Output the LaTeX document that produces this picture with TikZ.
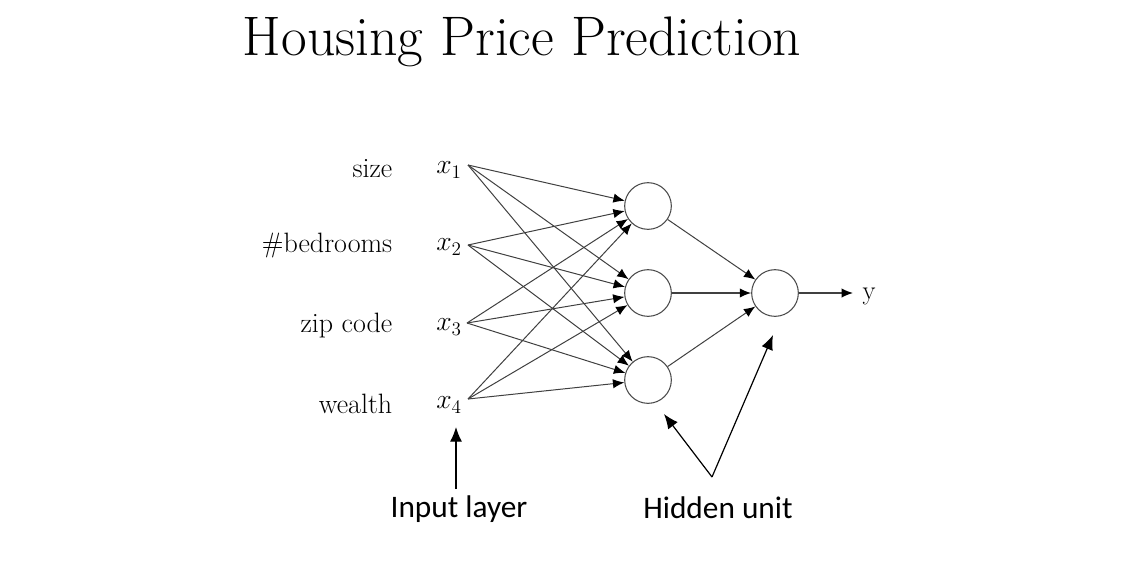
\documentclass[tikz,border=0pt]{standalone}
\usepackage{amssymb,amsmath}
\usepackage{fontspec}
\newfontfamily\calibri{Carlito}
\usetikzlibrary{arrows,arrows.meta}

\begin{document}
\begin{tikzpicture}[x=0.75pt,y=0.75pt,yscale=-1,
	unit/.style={draw=black!70, circle, line width=0.8pt, minimum size=35pt, inner sep=0pt},
	lbl/.style={anchor=east, font=\fontsize{21}{24}\selectfont},
	var/.style={font=\fontsize{20}{23}\selectfont},
	edge/.style={draw=black!75, line width=0.75pt, -{Latex[length=8.5pt,width=7pt,color=black]}},
	note/.style={font=\calibri\fontsize{23.5}{26}\selectfont},
	pointer/.style={line width=0.9pt, -{Latex[length=11pt,width=9pt]}}]
	\path (0,0) rectangle (1138,586); %set diagram size to the screenshot
	
	\node (title) at (522,42) {\fontsize{41.8}{46}\selectfont Housing Price Prediction};
	
	% inputs
	\node [lbl] (size) at (397,169) {size};
	\node [lbl] (bed) at (397,246) {\#bedrooms};
	\node [lbl] (zip) at (397,326) {zip code};
	\node [lbl] (wealth) at (397,404) {wealth};
	\node [var] (x1) at (449,170) {$x_1$};
	\node [var] (x2) at (449,247) {$x_2$};
	\node [var] (x3) at (449,327) {$x_3$};
	\node [var] (x4) at (449,405) {$x_4$};
	\coordinate (i1) at (468,165);
	\coordinate (i2) at (468,245);
	\coordinate (i3) at (467,323);
	\coordinate (i4) at (468,399);
	
	% hidden and output units
	\node [unit] (h1) at (648,206) {};
	\node [unit] (h2) at (648,293) {};
	\node [unit] (h3) at (648,380) {};
	\node [unit] (o) at (775,293) {};
	\coordinate (out) at (853,293);
	\node [var] (y) at (869,296) {y};
	
	\draw [edge] (i1) -- (h1);
	\draw [edge] (i1) -- (h2);
	\draw [edge] (i1) -- (h3);
	\draw [edge] (i2) -- (h1);
	\draw [edge] (i2) -- (h2);
	\draw [edge] (i2) -- (h3);
	\draw [edge] (i3) -- (h1);
	\draw [edge] (i3) -- (h2);
	\draw [edge] (i3) -- (h3);
	\draw [edge] (i4) -- (h1);
	\draw [edge] (i4) -- (h2);
	\draw [edge] (i4) -- (h3);
	
	\draw [edge] (h1) -- (o);
	\draw [edge, line width=1pt] (h2) -- (o);
	\draw [edge] (h3) -- (o);
	\draw [edge, line width=1pt] (o) -- (out);
	
	% annotations
	\node [note] (inlayer) at (459,509) {Input layer};
	\node [note] (hidden) at (718,508) {Hidden unit};
	\coordinate (fork) at (712,477);
	\coordinate (intip) at (456,427);
	\coordinate (htip) at (664,414);
	\coordinate (otip) at (773,335);
	\draw [pointer] (456,489) -- (intip);
	\draw [pointer] (fork) -- (htip);
	\draw [pointer] (fork) -- (otip);
	
\end{tikzpicture}
\end{document}
